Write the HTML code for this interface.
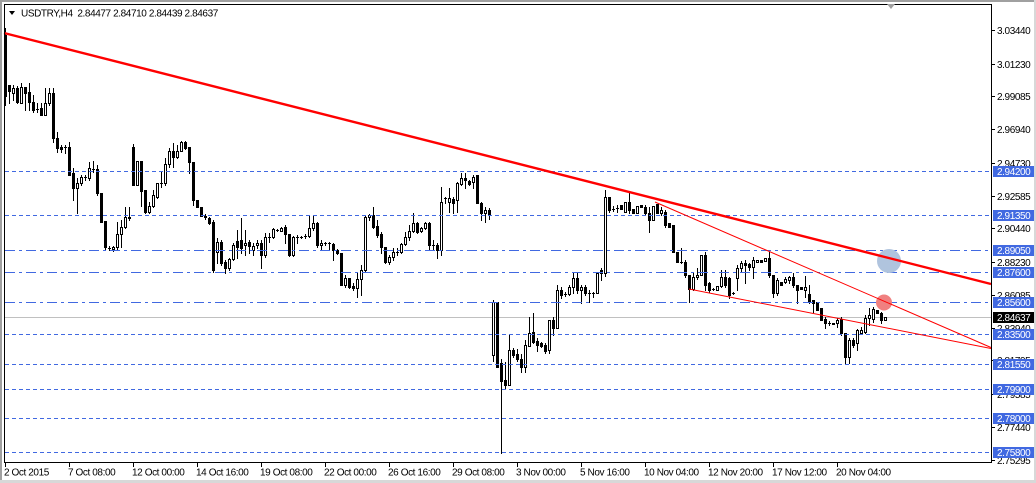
<!DOCTYPE html>
<html><head><meta charset="utf-8">
<style>
html,body{margin:0;padding:0;background:#fff;}
body{width:1036px;height:483px;overflow:hidden;}
svg{display:block;}
text{font-family:"Liberation Sans",Arial,sans-serif;font-size:10px;letter-spacing:-0.4px;fill:#000;}
</style></head><body>
<svg id="svg" width="1036" height="483" viewBox="0 0 1036 483" xmlns="http://www.w3.org/2000/svg">
<rect width="1036" height="483" fill="#fff"/>
<!-- window borders -->
<rect x="0" y="0" width="1036" height="2" fill="#a0a0a0"/>
<rect x="0" y="0" width="2" height="483" fill="#a0a0a0"/>
<rect x="0" y="480" width="1036" height="3" fill="#d8d8d8"/>
<rect x="1034" y="0" width="2" height="483" fill="#d8d8d8"/>

<!-- current price line -->
<line x1="5" y1="317.5" x2="991" y2="317.5" stroke="#c0c0c0" stroke-width="1" shape-rendering="crispEdges"/>

<!-- candles -->
<g id="cd" fill="#000" shape-rendering="crispEdges"></g>

<!-- horizontal levels -->
<g stroke="#4169e1" stroke-width="1" shape-rendering="crispEdges" fill="none">
<g stroke-dasharray="4,3">
<line x1="5" y1="171.5" x2="991" y2="171.5"/>
<line x1="5" y1="215.5" x2="991" y2="215.5"/>
<line x1="5" y1="334.5" x2="991" y2="334.5"/>
<line x1="5" y1="364.5" x2="991" y2="364.5"/>
<line x1="5" y1="389.5" x2="991" y2="389.5"/>
<line x1="5" y1="418.5" x2="991" y2="418.5"/>
<line x1="5" y1="452.5" x2="991" y2="452.5"/>
</g>
<g stroke-dasharray="10,4,3,4">
<line x1="5" y1="250.5" x2="991" y2="250.5"/>
<line x1="5" y1="272.5" x2="991" y2="272.5"/>
<line x1="5" y1="302.5" x2="991" y2="302.5"/>
</g>
</g>

<!-- circles -->
<circle cx="889" cy="261" r="12" fill="#b0c4de"/>
<circle cx="884" cy="302.5" r="8" fill="#f08080"/>

<!-- trend lines -->
<line x1="4" y1="33" x2="991" y2="284" stroke="#ff0000" stroke-width="2.4"/>
<line x1="655" y1="202" x2="991" y2="347.5" stroke="#ff0000" stroke-width="1"/>
<line x1="689" y1="289" x2="991" y2="348.5" stroke="#ff0000" stroke-width="1"/>

<!-- plot frame -->
<rect x="4.5" y="4.5" width="987" height="458" fill="none" stroke="#000" stroke-width="1" shape-rendering="crispEdges"/>

<!-- shift marker -->
<polygon points="887,4 895,4 891,9" fill="#a0a0a0"/>

<!-- title -->
<polygon points="9,11 15,11 12,15" fill="#000"/>
<text x="21" y="16.5" style="white-space:pre" xml:space="preserve">USDTRY,H4  2.84477 2.84710 2.84439 2.84637</text>

<!-- price axis ticks & labels -->
<g id="pa"></g>

<!-- level boxes -->
<g>
<rect x="993" y="166" width="41" height="11" fill="#4169e1"/>
<text x="997" y="175" fill="#fff" style="fill:#fff">2.94200</text>
<rect x="993" y="210" width="41" height="11" fill="#4169e1"/>
<text x="997" y="219" style="fill:#fff">2.91350</text>
<rect x="993" y="245" width="41" height="11" fill="#4169e1"/>
<text x="997" y="254" style="fill:#fff">2.89050</text>
<rect x="993" y="267" width="41" height="11" fill="#4169e1"/>
<text x="997" y="276" style="fill:#fff">2.87600</text>
<rect x="993" y="297" width="41" height="11" fill="#4169e1"/>
<text x="997" y="306" style="fill:#fff">2.85600</text>
<rect x="993" y="312" width="41" height="11" fill="#000"/>
<text x="997" y="321" style="fill:#fff">2.84637</text>
<rect x="993" y="329" width="41" height="11" fill="#4169e1"/>
<text x="997" y="338" style="fill:#fff">2.83500</text>
<rect x="993" y="359" width="41" height="11" fill="#4169e1"/>
<text x="997" y="368" style="fill:#fff">2.81550</text>
<rect x="993" y="384" width="41" height="11" fill="#4169e1"/>
<text x="997" y="393" style="fill:#fff">2.79900</text>
<rect x="993" y="413" width="41" height="11" fill="#4169e1"/>
<text x="997" y="422" style="fill:#fff">2.78000</text>
<rect x="993" y="447" width="41" height="11" fill="#4169e1"/>
<text x="997" y="456" style="fill:#fff">2.75800</text>
</g>

<!-- time axis -->
<g id="ta"></g>
</svg>

<script>
(function(){
var NS="http://www.w3.org/2000/svg";
function el(p,n,a,txt){var e=document.createElementNS(NS,n);for(var k in a)e.setAttribute(k,a[k]);if(txt!=null)e.textContent=txt;p.appendChild(e);return e;}
var D=[[1,35,96,28,105],[1,85,91,85,103],[0,88,93,85,100],[1,88,102,86,103],[0,87,103,83,103],[1,87,93,87,110],[1,92,102,83,110],[1,102,110,95,112],[2,109,109,103,112],[1,108,115,103,115],
[0,103,115,88,115],[0,93,103,88,105],[1,93,138,88,142],[1,138,148,132,152],[1,147,149,145,152],[2,147,147,145,153],[1,147,175,142,175],[1,173,188,168,200],[0,183,188,178,213],[0,177,183,175,185],
[2,177,177,175,180],[0,168,178,162,180],[2,169,169,161,172],[1,169,193,165,195],[1,193,222,193,222],[1,221,247,221,250],[2,248,248,246,250],[0,247,249,246,251],[0,234,247,222,250],[0,227,234,220,247],
[0,217,227,207,228],[1,217,218,207,220],[1,147,185,144,185],[0,161,185,161,185],[1,161,191,161,206],[1,190,212,190,213],[0,206,212,202,213],[0,195,206,190,207],[0,183,197,183,198],[2,183,183,172,187],
[0,164,183,158,185],[0,151,164,148,167],[1,151,157,143,167],[0,151,157,145,158],[0,142,151,141,151],[1,142,148,141,149],[1,147,162,147,173],[1,162,200,162,205],[1,200,207,200,207],[1,207,216,207,216],
[1,216,217,214,219],[1,218,223,217,224],[1,222,270,220,272],[0,242,252,238,263],[1,242,263,240,265],[1,262,268,260,273],[0,259,268,258,270],[0,245,259,243,260],[1,241,247,230,258],[1,240,248,218,253],
[0,243,245,230,255],[1,242,246,240,253],[0,246,250,243,255],[0,243,245,240,248],[1,243,255,240,268],[0,237,255,233,257],[2,237,237,233,242],[0,229,237,228,238],[2,230,230,229,231],[0,228,231,227,231],
[1,227,234,225,243],[1,234,255,234,256],[0,237,255,236,256],[2,237,237,235,243],[2,237,237,236,238],[2,236,236,234,238],[0,228,236,215,237],[0,223,228,215,230],[1,223,245,222,247],[0,243,245,240,250],
[2,243,243,242,245],[2,243,243,242,250],[1,244,250,243,260],[1,250,253,249,254],[1,253,285,253,285],[0,278,285,275,287],[1,278,287,278,288],[1,286,288,283,290],[0,279,288,273,297],[0,270,279,265,295],
[0,217,270,216,271],[0,215,217,214,220],[1,215,227,207,228],[1,226,235,220,237],[1,234,247,232,253],[1,247,262,247,263],[0,257,262,255,264],[0,252,257,248,260],[2,252,252,248,255],[0,244,252,243,253],
[0,237,244,232,245],[0,231,237,225,240],[0,223,231,213,232],[1,223,232,222,233],[0,228,231,227,232],[0,223,228,222,229],[1,223,245,222,250],[2,245,245,240,250],[1,245,250,243,258],[0,202,250,187,255],
[2,198,198,197,203],[0,198,202,188,212],[1,199,203,197,213],[0,183,200,182,212],[0,178,184,173,185],[1,178,180,173,188],[1,181,184,180,185],[0,177,182,175,188],[1,175,203,175,203],[1,203,213,202,220],
[0,210,213,207,222],[1,210,215,208,219],[0,302,355,300,361],[1,302,367,302,367],[1,363,381,359,453],[1,380,385,362,389],[0,350,385,335,385],[1,350,355,348,357],[1,354,359,349,361],[1,359,367,354,372],
[0,345,367,340,372],[0,333,346,317,346],[1,332,342,313,343],[1,341,345,338,351],[1,343,346,342,347],[1,345,351,343,353],[0,320,350,320,353],[1,320,328,317,335],[0,290,328,285,328],[1,290,295,287,298],
[2,294,294,292,296],[0,287,294,285,295],[0,278,287,272,293],[1,278,290,272,293],[0,287,290,285,303],[1,287,293,285,295],[2,293,293,290,302],[2,293,293,292,297],[0,273,293,273,293],[1,270,273,268,280],
[0,197,273,190,276],[1,197,210,197,212],[2,209,209,206,211],[2,208,208,205,212],[1,205,209,205,209],[0,202,212,202,212],[1,202,210,193,213],[1,209,213,209,213],[0,206,213,206,213],[1,205,207,205,207],
[1,207,213,205,215],[1,213,220,207,232],[0,206,220,206,220],[1,204,213,204,213],[0,210,213,207,215],[1,212,225,210,227],[1,223,227,223,227],[1,225,252,225,252],[1,252,262,252,262],[2,262,262,248,263],
[1,262,275,260,277],[1,275,289,275,302],[0,277,289,272,290],[0,275,277,268,279],[0,255,275,255,275],[1,255,285,252,290],[1,283,290,282,292],[2,289,289,288,290],[0,286,290,286,290],[0,277,286,270,287],
[1,277,285,270,287],[1,278,295,277,298],[2,293,293,292,294],[0,268,278,265,290],[0,263,268,261,272],[1,263,265,260,283],[1,264,267,263,270],[0,260,267,257,278],[0,260,262,260,262],[1,260,262,260,262],
[0,258,261,258,261],[1,258,275,252,277],[1,275,293,275,297],[0,280,293,278,295],[1,282,285,282,285],[0,279,282,277,283],[0,277,280,276,283],[1,277,285,273,287],[1,285,290,285,303],[1,287,289,287,289],
[0,287,290,276,297],[1,294,302,285,303],[1,300,303,300,312],[1,302,310,302,310],[1,308,320,308,320],[1,319,323,317,328],[2,323,323,321,325],[1,323,324,323,324],[0,320,323,318,327],[1,319,333,317,335],
[1,333,357,333,364],[0,340,357,338,363],[1,340,345,338,347],[0,330,343,329,350],[0,330,333,327,333],[0,318,332,315,333],[0,315,318,308,325],[0,309,319,307,322],[1,310,313,310,313],[1,313,320,312,323],
[0,317,320,317,320]];
var g=document.getElementById('cd');
for(var i=0;i<D.length;i++){
  var d=D[i],x=5+4*i,k=d[0],t=d[1],b=d[2],h=Math.min(d[3],t),l=Math.max(d[4],b);
  el(g,'rect',{x:x,y:h,width:1,height:(l-h+1)});
  el(g,'rect',{x:x-1,y:t,width:3,height:(b-t+1)});
  if(k==0&&b-t>=2) el(g,'rect',{x:x,y:t+1,width:1,height:(b-t-1),fill:'#fff'});
}
// price axis
var pa=document.getElementById('pa');
var P=[["3.03440",30],["3.01230",64],["2.99085",96],["2.96940",129],["2.94730",163],["2.92585",196],["2.90440",228],["2.88230",262],["2.86085",295],["2.83940",328],["2.81795",360],["2.79585",394],["2.77440",427],["2.75295",460]];
for(var j=0;j<P.length;j++){
  el(pa,'rect',{x:992,y:P[j][1],width:3,height:1,fill:'#000'});
  el(pa,'text',{x:997,y:P[j][1]+4},P[j][0]);
}
// time axis
var ta=document.getElementById('ta');
var T=["2 Oct 2015","7 Oct 08:00","12 Oct 00:00","14 Oct 16:00","19 Oct 08:00","22 Oct 00:00","26 Oct 16:00","29 Oct 08:00","3 Nov 00:00","5 Nov 16:00","10 Nov 04:00","12 Nov 20:00","17 Nov 12:00","20 Nov 04:00"];
for(var m=0;m<T.length;m++){
  var tx=5+64*m;
  el(ta,'rect',{x:tx,y:463,width:1,height:4,fill:'#000'});
  el(ta,'text',{x:tx-1,y:475.5},T[m]);
}
})();
</script>
</body></html>
